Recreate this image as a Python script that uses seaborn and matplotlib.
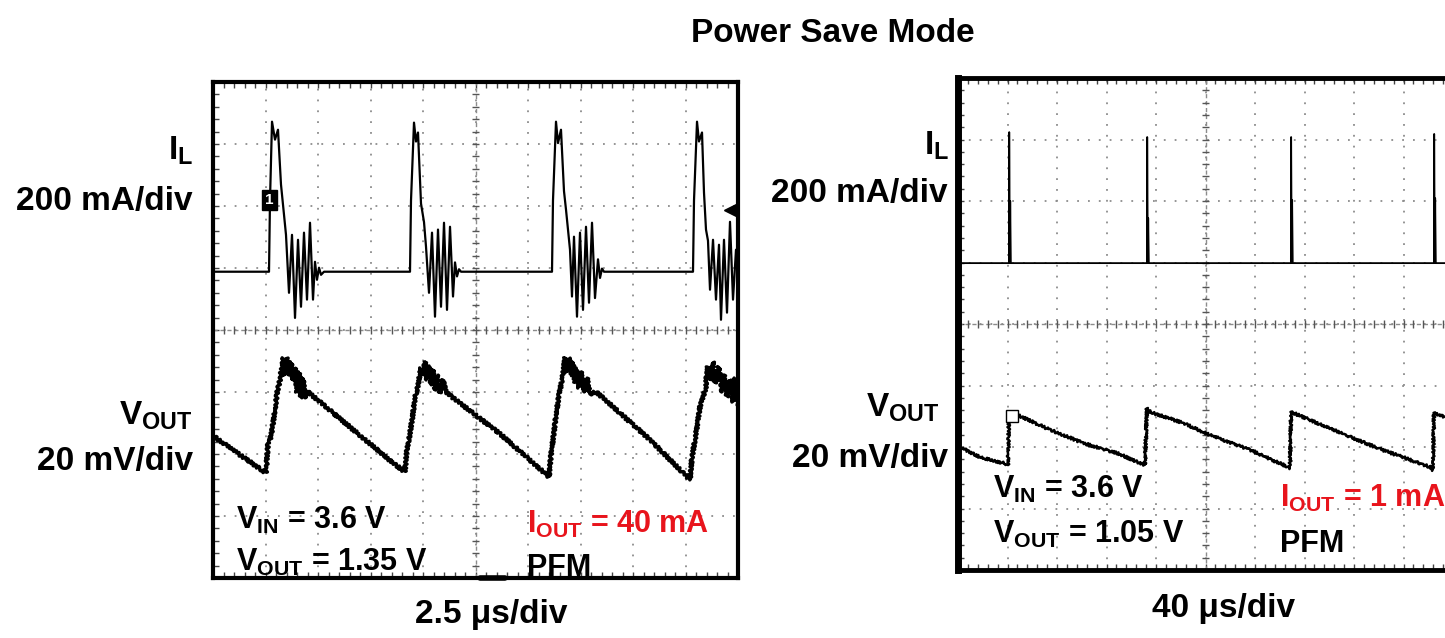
import numpy as np
import matplotlib
matplotlib.use("Agg")
import matplotlib.pyplot as plt
import seaborn as sns

# ---------------- data read off the two scope shots ----------------
# left shot: 2.5 us/div, I_L 200 mA/div, V_OUT 20 mV/div (ac coupled)
left_il_t = [0, 1.2, 2.667, 2.714, 2.810, 2.952, 3.095, 3.238, 3.381, 3.476, 3.619, 3.762,
             3.905, 4.048, 4.190, 4.333, 4.476, 4.619, 4.762, 4.857, 4.952, 5.048, 5.143, 5.286,
             7.5,
             9.381, 9.429, 9.571, 9.667, 9.762, 9.905, 10.048, 10.143, 10.286, 10.429, 10.571,
             10.714, 10.857, 11.0, 11.143, 11.286, 11.429, 11.524, 11.619, 11.714, 11.810,
             14.0,
             16.143, 16.190, 16.333, 16.429, 16.571, 16.714, 16.810, 17.0, 17.095, 17.190, 17.333,
             17.476, 17.619, 17.762, 17.905, 18.048, 18.190, 18.333, 18.429, 18.524, 18.619,
             21.0,
             22.857, 22.905, 23.048, 23.143, 23.286, 23.381, 23.476, 23.571, 23.667, 23.810,
             23.952, 24.095, 24.190, 24.333, 24.476, 24.619, 24.762, 24.905, 25.0]
left_il_ma = [0, 0, 0, 230, 484, 426, 458, 281, 184, 119, -68, 119,
              -149, 103, -113, 126, -90, 158, -90, 32, -26, 13, -10, 0,
              0,
              0, 230, 481, 420, 449, 220, 160, 81, -68, 126, -145,
              136, -113, 158, -123, 145, -80, 30, -15, 8, 0,
              0,
              0, 230, 484, 415, 458, 260, 200, 71, -80, 113, -145,
              126, -123, 145, -100, 158, -85, 40, -20, 10, 0,
              0,
              0, 230, 484, 420, 449, 255, 136, 100, -58, 103,
              -90, 87, -155, 103, -132, 161, -90, 71, -26]

left_vout_t = [0, 1.286, 2.524, 2.619, 2.714, 2.810, 2.952, 3.048, 3.190, 3.333, 3.429, 3.524,
               3.619, 3.714, 3.810, 3.905, 4.0, 4.095, 4.190, 4.286, 4.381, 4.524, 5.095, 8.571,
               9.143, 9.238, 9.333, 9.476, 9.619, 9.762, 9.905, 10.0, 10.095, 10.190, 10.286,
               10.381, 10.476, 10.571, 10.667, 10.810, 10.952, 11.095, 11.381, 13.667,
               16.0, 16.095, 16.190, 16.333, 16.476, 16.619, 16.762, 16.857, 16.952, 17.048,
               17.143, 17.238, 17.333, 17.429, 17.524, 17.667, 17.810, 17.952, 18.238, 18.571,
               20.810,
               22.714, 22.810, 22.952, 23.048, 23.190, 23.333, 23.476, 23.524, 23.667, 23.810,
               23.905, 24.095, 24.238, 24.333, 24.476, 24.619, 24.762, 24.857, 25.0]
left_vout_mv = [-6.1, -12.3, -18.1, -8.5, -7.5, -4.3, 2.2, 7.7, 11.9, 19.0, 13.5, 19.0,
                13.5, 17.7, 11.9, 15.7, 8.0, 14.5, 6.1, 12.5, 6.1, 8.0, 4.8, -14.9,
                -17.8, -10.7, -7.4, -1.0, 6.1, 10.3, 15.7, 13.5, 17.7, 11.9, 16.4,
                10.3, 15.1, 8.6, 13.5, 7.7, 11.9, 8.0, 6.4, -5.5,
                -19.4, -12.2, -7.4, 0.6, 7.0, 11.9, 19.0, 14.5, 19.0, 13.2,
                17.7, 11.2, 15.7, 9.3, 14.5, 8.0, 12.5, 7.4, 8.0, 6.1,
                -7.4,
                -20.3, -13.0, -7.4, -3.2, 3.2, 6.4, 9.6, 16.1, 11.9, 17.7,
                10.9, 16.1, 8.0, 13.5, 6.4, 11.9, 4.8, 12.5, 3.8]

# right shot: 40 us/div, I_L 200 mA/div, V_OUT 20 mV/div (ac coupled)
right_il_t = [0, 41.2, 41.4, 41.9, 42.2, 42.7, 152.7, 152.9, 153.4, 153.7, 154.2,
              269.0, 269.2, 269.7, 270.0, 270.5, 384.6, 384.8, 385.3, 385.6, 386.1, 400]
right_il_ma = [0, 0, 426, 0, 202, 0, 0, 410, 0, 146, 0,
               0, 410, 0, 205, 0, 0, 420, 0, 211, 0, 0]

right_vout_t = [1.6, 17.8, 36.4, 40.4, 41.2, 44.4, 74.3, 101.0, 128.5, 151.1,
                152.7, 155.2, 181.8, 203.6, 236.0, 266.7, 268.3,
                269.1, 290.1, 316.8, 343.4, 381.4, 383.8, 384.6, 393.5]
right_vout_mv = [-2.0, -5.3, -7.2, -7.9, 8.4, 9.1, 3.6, -0.7, -4.0, -7.9,
                 10.7, 9.4, 5.8, 1.9, -3.0, -8.5, -8.8,
                 9.4, 5.8, 1.3, -3.0, -8.5, -9.5, 9.1, 7.8]

# scope annotations
left_trig_ma = 200      # trigger level arrow
left_marker = (2.69, 232)
right_marker = (43.6, 8.1)

# channel positions on screen (divisions from centre)
pos = {"left_il": 0.94, "left_vout": -1.4, "right_il": 0.99, "right_vout": -1.9}

# ---------------- style ----------------
sns.set_theme(style="white")
plt.rcParams["font.family"] = ["Liberation Sans", "DejaVu Sans"]
plt.rcParams["mathtext.fontset"] = "custom"
plt.rcParams["mathtext.rm"] = "Liberation Sans:bold"
plt.rcParams["mathtext.it"] = "Liberation Sans:bold"
plt.rcParams["mathtext.bf"] = "Liberation Sans:bold"

W, H = 1445, 638
fig = plt.figure(figsize=(W / 100, H / 100), dpi=100, facecolor="white")
RED = "#e8141c"


def graticule(ax, span, lw):
    ax.set_facecolor("white")
    ax.set_xticks(np.linspace(0, span, 11))
    ax.set_xticks(np.linspace(0, span, 51), minor=True)
    ax.set_yticks(np.arange(-4, 5))
    ax.set_yticks(np.linspace(-4, 4, 41), minor=True)
    ax.tick_params(which="both", direction="in", top=True, right=True, left=True, bottom=True,
                   labelleft=False, labelbottom=False, length=4, width=1, color="#444444")
    ax.grid(which="major", color="#8c8c8c", linestyle=(0, (1, 5)), linewidth=1.3)
    ax.axhline(0, color="#8c8c8c", lw=1, ls=(0, (3, 2)))
    ax.axvline(span / 2, color="#8c8c8c", lw=1, ls=(0, (3, 2)))
    ax.vlines(np.linspace(0, span, 51), -0.07, 0.07, color="#555555", lw=1)
    ax.hlines(np.linspace(-4, 4, 41), span / 2 - span * 0.007, span / 2 + span * 0.007,
              color="#555555", lw=1)
    for s in ax.spines.values():
        s.set_linewidth(lw)
        s.set_color("black")
    ax.set_xlim(0, span)
    ax.set_ylim(-4, 4)


def channel(ax, x, y, per_div, offset, lw, sketch=None):
    tw = ax.twinx()
    sns.lineplot(x=x, y=y, ax=tw, sort=False, estimator=None, color="black", lw=lw)
    if sketch:
        tw.lines[-1].set_sketch_params(*sketch)
    tw.set_ylim((-4 - offset) * per_div, (4 - offset) * per_div)
    tw.axis("off")
    return tw


def label(x, y, s, ha="left", color="black", size=24):
    fig.text(x / W, 1 - y / H, s, ha=ha, va="baseline", fontsize=size,
             fontweight="bold", color=color)


# ---------------- left shot ----------------
axL = fig.add_axes([213 / W, 1 - 578 / H, 525 / W, 496 / H])
graticule(axL, 25, 3)
ilL = channel(axL, left_il_t, left_il_ma, 200, pos["left_il"], 1.6)
vL = channel(axL, left_vout_t, left_vout_mv, 20, pos["left_vout"], 2.4, (1.5, 4, 2))
ilL.text(*left_marker, "1", color="white", fontsize=11, fontweight="bold", ha="center",
         va="center", bbox=dict(boxstyle="square,pad=0.2", fc="black", ec="black"))
ilL.plot([24.6], [left_trig_ma], marker="<", color="black", ms=9, clip_on=False)
axL.plot([12.7, 13.9], [-4, -4], color="black", lw=4, clip_on=False)
axL.set_xlim(0, 25)

# ---------------- right shot ----------------
axR = fig.add_axes([958 / W, 1 - 570 / H, 495 / W, 492 / H])
graticule(axR, 400, 3.5)
axR.spines["left"].set_linewidth(5)
ilR = channel(axR, right_il_t, right_il_ma, 200, pos["right_il"], 1.3)
vR = channel(axR, right_vout_t, right_vout_mv, 20, pos["right_vout"], 1.8, (1.3, 3, 2))
vR.plot(*right_marker, marker="s", mfc="white", mec="black", ms=8)
axR.set_xlim(0, 400)

# ---------------- texts ----------------
label(833, 42, "Power Save Mode", ha="center")

label(193, 160, r"I$_\mathrm{L}$", ha="right")
label(193, 210, "200 mA/div", ha="right")
label(193, 425, r"V$_\mathrm{OUT}$", ha="right")
label(193, 470, "20 mV/div", ha="right")
label(491, 623, "2.5 \u03bcs/div", ha="center")
label(236, 529, r"V$_\mathrm{IN}$ = 3.6 V", size=22)
label(236, 571, r"V$_\mathrm{OUT}$ = 1.35 V", size=22)
label(527, 533, r"I$_\mathrm{OUT}$ = 40 mA", color=RED, size=22)
label(527, 576, "PFM", size=22)

label(949, 155, r"I$_\mathrm{L}$", ha="right")
label(948, 202, "200 mA/div", ha="right")
label(940, 417, r"V$_\mathrm{OUT}$", ha="right")
label(948, 467, "20 mV/div", ha="right")
label(1224, 617, "40 \u03bcs/div", ha="center")
label(993, 498, r"V$_\mathrm{IN}$ = 3.6 V", size=22)
label(993, 543, r"V$_\mathrm{OUT}$ = 1.05 V", size=22)
label(1280, 507, r"I$_\mathrm{OUT}$ = 1 mA", color=RED, size=22)
label(1280, 552, "PFM", size=22)

fig.savefig("out.png", dpi=100, facecolor="white")
